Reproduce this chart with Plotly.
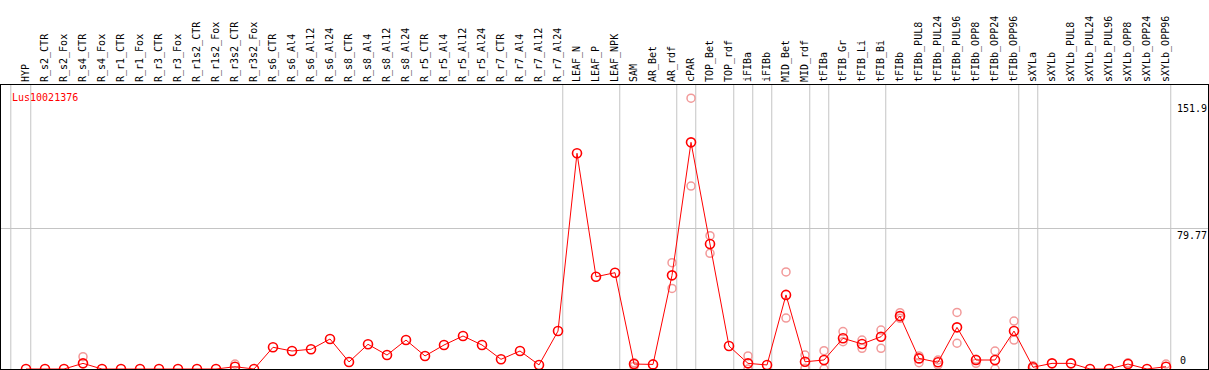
import plotly.graph_objects as go

categories = ["HYP", "R_s2_CTR", "R_s2_Fox", "R_s4_CTR", "R_s4_Fox", "R_r1_CTR", "R_r1_Fox",
              "R_r3_CTR", "R_r3_Fox", "R_r1s2_CTR", "R_r1s2_Fox", "R_r3s2_CTR", "R_r3s2_Fox",
              "R_s6_CTR", "R_s6_Al4", "R_s6_Al12", "R_s6_Al24", "R_s8_CTR", "R_s8_Al4", "R_s8_Al12",
              "R_s8_Al24", "R_r5_CTR", "R_r5_Al4", "R_r5_Al12", "R_r5_Al24", "R_r7_CTR", "R_r7_Al4",
              "R_r7_Al12", "R_r7_Al24", "LEAF_N", "LEAF_P", "LEAF_NPK", "SAM", "AR_Bet", "AR_rdf",
              "cPAR", "TOP_Bet", "TOP_rdf", "iFIBa", "iFIBb", "MID_Bet", "MID_rdf", "tFIBa",
              "tFIB_Gr", "tFIB_Li", "tFIB_Bi", "tFIBb", "tFIBb_PUL8", "tFIBb_PUL24", "tFIBb_PUL96",
              "tFIBb_OPP8", "tFIBb_OPP24", "tFIBb_OPP96", "sXYLa", "sXYLb", "sXYLb_PUL8",
              "sXYLb_PUL24", "sXYLb_PUL96", "sXYLb_OPP8", "sXYLb_OPP24", "sXYLb_OPP96"]

mean_values = [0, 0, 0, 3.2, 0, 0, 0, 0, 0, 0, 0, 1.3, 0, 12.3, 10.2, 11.2, 17.0, 4.0, 14.0, 7.9,
               16.4, 7.4, 13.6, 18.7, 13.6, 5.5, 10.2, 2.3, 21.5, 122.3, 52.3, 54.6, 2.8, 2.6, 53.1,
               128.5, 70.9, 13.0, 3.2, 2.3, 42.0, 4.1, 5.1, 17.4, 14.2, 18.3, 30.0, 6.0, 3.8, 23.6,
               5.1, 5.1, 21.5, 1.0, 3.2, 3.2, 0, 0, 2.8, 0, 1.3]

rep_high = [None, None, None, 7.0, None, None, None, None, None, None, None, 2.8, None, None, None,
            None, None, None, None, None, None, None, None, None, None, None, None, None, None,
            None, None, None, 3.5, None, 60.3, 153.5, 75.6, None, 7.4, None, 55.0, 7.9, 10.4,
            21.2, 16.4, 22.1, 31.9, 7.4, 5.1, 32.1, 5.5, 10.2, 27.2, 1.8, None, None, None, None,
            3.5, None, 2.8]

rep_low = [None, None, None, None, None, None, None, None, None, None, None, None, None, None, None,
           None, None, None, None, None, None, None, None, None, None, None, None, None, None,
           None, None, None, 1.5, None, 45.7, 103.7, 65.6, None, 0, None, 28.9, 0.4, 0,
           15.5, 11.7, 11.7, 28.7, 3.6, 2.3, 14.6, 3.2, 0, 16.4, 0.5, None, None, None, None,
           None, None, None]

group_separators = [-0.8, 0.25, 28.25, 31.25, 34.25, 35.25, 37.25, 38.25, 39.25, 41.25, 42.25,
                    45.25, 52.25, 53.25, 60.25]

y_tick_values = [151.9, 79.77, 0]
y_tick_labels = ["151.9", "79.77", "0"]
gene_name = "Lus10021376"

FONT = "DejaVu Sans Mono"
rep_color = "#f29a9a"

fig = go.Figure()
for reps in (rep_high, rep_low):
    fig.add_trace(go.Scatter(
        x=categories, y=reps, mode="markers",
        marker=dict(symbol="circle-open", size=8, color=rep_color, line=dict(width=1.5, color=rep_color)),
        showlegend=False, hoverinfo="skip"))

fig.add_trace(go.Scatter(
    x=categories, y=mean_values, mode="lines+markers",
    line=dict(color="#ff0000", width=1),
    marker=dict(symbol="circle-open", size=9, color="#ff0000", line=dict(width=1.6, color="#ff0000")),
    showlegend=False))

for s in group_separators:
    fig.add_shape(type="line", xref="x", yref="paper", x0=s, x1=s, y0=0, y1=1,
                  line=dict(color="#c4c4c4", width=1), layer="below")

annotations = [dict(text=gene_name, xref="paper", yref="paper", x=0.0075, y=1, xanchor="left",
                    yanchor="top", yshift=-5, showarrow=False,
                    font=dict(family=FONT, size=10, color="#ff0000"))]
for v, t in zip(y_tick_values, y_tick_labels):
    if v == 0:
        annotations.append(dict(text=t, xref="paper", yref="y", x=0.9755, y=v, xanchor="left",
                                yanchor="bottom", yshift=1, showarrow=False,
                                font=dict(family=FONT, size=10, color="black")))
    else:
        annotations.append(dict(text=t, xref="paper", yref="y", x=1, y=v, xanchor="right",
                                yanchor="top", xshift=1, showarrow=False,
                                font=dict(family=FONT, size=10, color="black")))

fig.update_layout(
    width=1209, height=370,
    margin=dict(l=1, r=1, t=85, b=1, pad=0),
    paper_bgcolor="white", plot_bgcolor="white",
    font=dict(family=FONT, size=10, color="black"),
    annotations=annotations,
    xaxis=dict(side="top", type="category", range=[-1.316, 62.21], tickangle=-90,
               showgrid=False, showline=True, linecolor="black", linewidth=1, mirror=True,
               ticks="", tickfont=dict(family=FONT, size=10, color="black"), zeroline=False),
    yaxis=dict(range=[0, 161.0], tickvals=[79.77], showticklabels=False, showgrid=True,
               gridcolor="#c4c4c4", gridwidth=1, showline=True, linecolor="black", linewidth=1,
               mirror=True, ticks="", zeroline=False),
)

fig.write_html("out.html", config={"displayModeBar": False},
               post_script="document.body.style.margin='0';document.body.style.padding='0';")
